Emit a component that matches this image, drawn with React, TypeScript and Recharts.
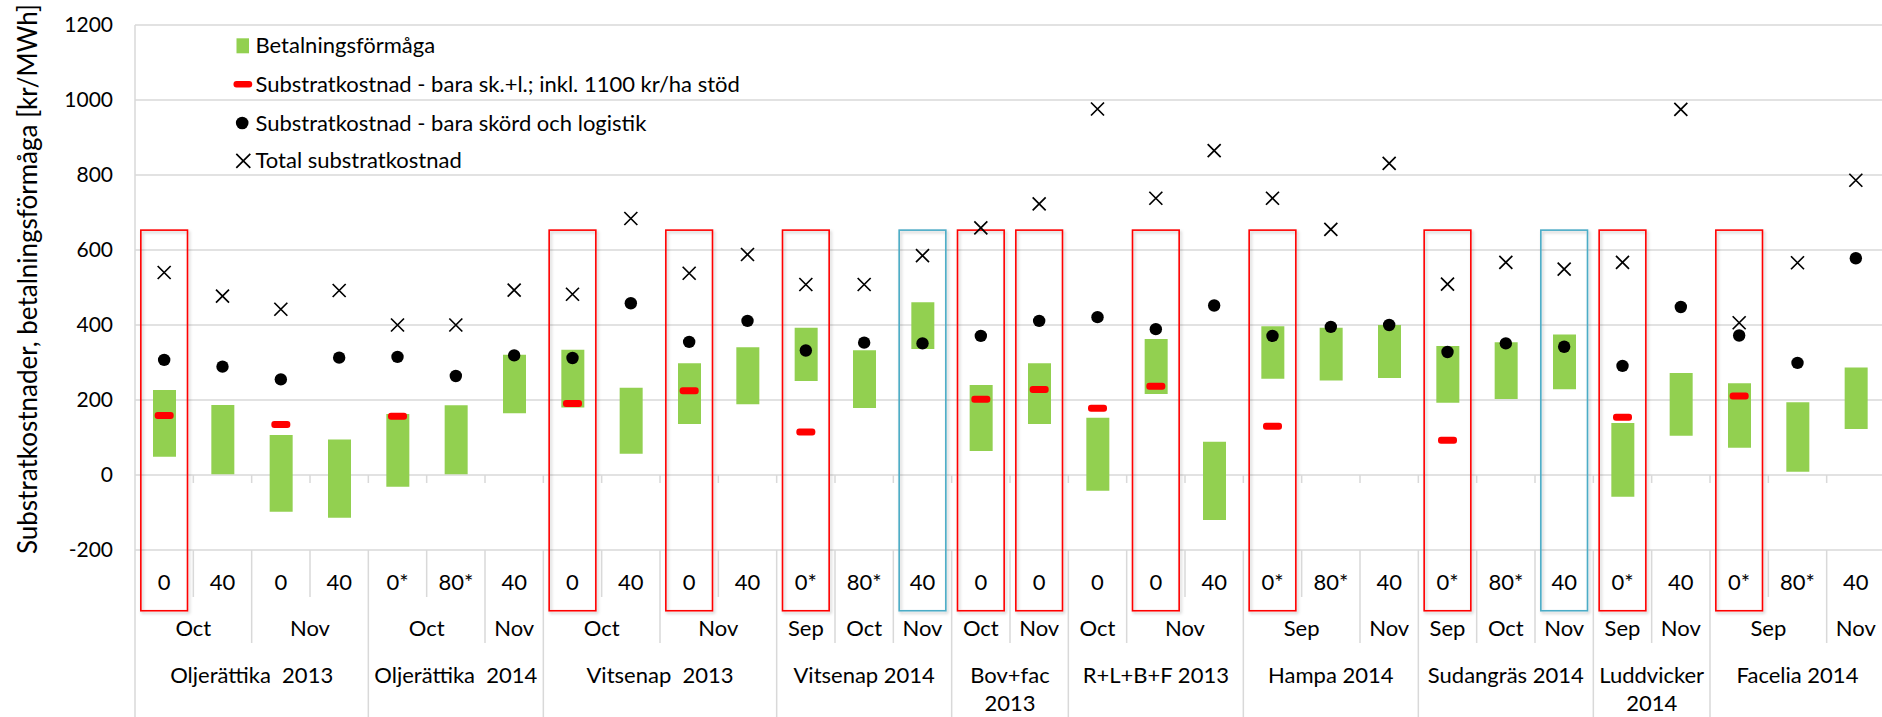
import React from 'react';
import { ComposedChart, Bar, Scatter, XAxis, YAxis, CartesianGrid, ReferenceArea, Legend } from 'recharts';

// crop groups (top level of the category axis) and how many leaf columns each spans
const cropNames = ['Oljerättika  2013', 'Oljerättika  2014', 'Vitsenap  2013', 'Vitsenap 2014', 'Bov+fac\n2013', 'R+L+B+F 2013', 'Hampa 2014', 'Sudangräs 2014', 'Luddvicker\n2014', 'Facelia 2014'];
const cropSizes = [4, 3, 4, 3, 2, 3, 3, 3, 2, 3];

// harvest month per column
const months = ['Oct', 'Oct', 'Nov', 'Nov', 'Oct', 'Oct', 'Nov', 'Oct', 'Oct', 'Nov', 'Nov', 'Sep', 'Oct', 'Nov', 'Oct', 'Nov', 'Oct', 'Nov', 'Nov', 'Sep', 'Sep', 'Nov', 'Sep', 'Oct', 'Nov', 'Sep', 'Nov', 'Sep', 'Sep', 'Nov'];
// N-dose per column
const doses = ['0', '40', '0', '40', '0*', '80*', '40', '0', '40', '0', '40', '0*', '80*', '40', '0', '0', '0', '0', '40', '0*', '80*', '40', '0*', '80*', '40', '0*', '40', '0*', '80*', '40'];

// Betalningsförmåga (range low..high)
const payLow = [49, 2, -98, -114, -31, 2, 165, 180, 57, 136, 189, 251, 179, 336, 64, 136, -42, 216, -120, 257, 252, 259, 193, 203, 229, -58, 105, 73, 9, 123];
const payHigh = [227, 187, 107, 95, 163, 186, 321, 334, 233, 298, 341, 393, 333, 461, 240, 298, 153, 363, 89, 397, 393, 400, 344, 354, 375, 139, 272, 245, 194, 287];
// Substratkostnad - bara sk.+l.; inkl. 1100 kr/ha stöd
const costSupport = [159, null, 135, null, 157, null, null, 191, null, 225, null, 115, null, null, 202, 228, 178, 237, null, 130, null, null, 93, null, null, 154, null, 211, null, null];
// Substratkostnad - bara skörd och logistik
const costHarvest = [307, 289, 255, 313, 315, 264, 319, 312, 458, 355, 411, 332, 353, 351, 371, 411, 421, 389, 452, 371, 395, 400, 328, 351, 342, 291, 448, 372, 299, 578];
// Total substratkostnad
const costTotal = [540, 477, 442, 492, 400, 400, 493, 482, 684, 538, 588, 508, 508, 585, 659, 723, 976, 738, 865, 738, 655, 831, 509, 567, 549, 567, 975, 406, 566, 786];

// highlighted columns
const redBoxes = [0, 7, 9, 11, 14, 15, 17, 19, 22, 25, 27];
const blueBoxes = [13, 24];
const boxRange = [-362, 653];

const yTicks = [-200, 0, 200, 400, 600, 800, 1000, 1200];

const W = 1885;
const H = 717;
const PLOT_LEFT = 135;
const PLOT_TOP = 25;
const PLOT_BOTTOM = 550;
const N = doses.length;
const BAND = (W - PLOT_LEFT) / N;
const Y_ZERO = PLOT_TOP + (1200 / 1400) * (PLOT_BOTTOM - PLOT_TOP);
const FONT = 'Lato, sans-serif';
const GRID = '#d9d9d9';

const cropOf: number[] = [];
cropSizes.forEach((n, c) => { for (let k = 0; k < n; k++) cropOf.push(c); });

const monthStart = (i: number) => i === 0 || months[i - 1] !== months[i] || cropOf[i - 1] !== cropOf[i];
const monthEnd = (i: number) => i === N - 1 || months[i + 1] !== months[i] || cropOf[i + 1] !== cropOf[i];
const cropStart = (i: number) => i === 0 || cropOf[i - 1] !== cropOf[i];
const cropEnd = (i: number) => i === N - 1 || cropOf[i + 1] !== cropOf[i];

const data = doses.map((d, i) => ({
  key: `c${i}`,
  pay: [payLow[i], payHigh[i]],
  support: costSupport[i],
  harvest: costHarvest[i],
  total: costTotal[i],
}));

const CategoryTick = (props: any) => {
  const i = parseInt(String(props.payload.value).slice(1), 10);
  const cx = PLOT_LEFT + (i + 0.5) * BAND;
  const right = PLOT_LEFT + (i + 1) * BAND;
  const sepBottom = cropEnd(i) ? H : monthEnd(i) ? PLOT_BOTTOM + 93 : PLOT_BOTTOM + 47;
  const txt = { fontFamily: FONT, fontSize: 22, fill: '#000', textAnchor: 'middle' as const };

  let monthLabel = null;
  if (monthStart(i)) {
    let j = i;
    while (!monthEnd(j)) j++;
    const mx = PLOT_LEFT + ((i + j + 1) / 2) * BAND;
    monthLabel = <text x={mx} y={PLOT_BOTTOM + 86} {...txt}>{months[i]}</text>;
  }
  let cropLabel = null;
  if (cropStart(i)) {
    let j = i;
    while (!cropEnd(j)) j++;
    const mx = PLOT_LEFT + ((i + j + 1) / 2) * BAND;
    const lines = cropNames[cropOf[i]].split('\n');
    cropLabel = (
      <text x={mx} y={PLOT_BOTTOM + 133} {...txt} style={{ whiteSpace: 'pre' }}>
        {lines.map((l, k) => (
          <tspan key={k} x={mx} dy={k === 0 ? 0 : 28}>{l}</tspan>
        ))}
      </text>
    );
  }

  return (
    <g>
      {i === 0 && <line x1={PLOT_LEFT} x2={PLOT_LEFT} y1={PLOT_BOTTOM} y2={H} stroke={GRID} strokeWidth={1.5} />}
      {i < N - 1 && <line x1={right} x2={right} y1={PLOT_BOTTOM} y2={sepBottom} stroke={GRID} strokeWidth={1.5} />}
      {i < N - 1 && <line x1={right} x2={right} y1={Y_ZERO} y2={Y_ZERO + 8} stroke={GRID} strokeWidth={1.5} />}
      <text x={cx} y={PLOT_BOTTOM + 40} {...txt}>{doses[i]}</text>
      {monthLabel}
      {cropLabel}
    </g>
  );
};

const BoxShape = (color: string) => (p: any) => {
  const w = p.width * 0.8;
  return (
    <rect
      x={p.x + (p.width - w) / 2}
      y={p.y}
      width={w}
      height={p.height}
      fill="none"
      stroke={color}
      strokeWidth={1.6}
      filter="url(#boxShadow)"
    />
  );
};

const DashShape = (p: any) =>
  Number.isFinite(p.cy) ? <rect x={p.cx - 9.5} y={p.cy - 3.5} width={19} height={7} rx={3} fill="#ff0000" /> : null;
const DotShape = (p: any) =>
  Number.isFinite(p.cy) ? <circle cx={p.cx} cy={p.cy} r={6.2} fill="#000" /> : null;
const CrossShape = (p: any) =>
  Number.isFinite(p.cy) ? (
    <path
      d={`M${p.cx - 6.5},${p.cy - 6.5}L${p.cx + 6.5},${p.cy + 6.5}M${p.cx - 6.5},${p.cy + 6.5}L${p.cx + 6.5},${p.cy - 6.5}`}
      stroke="#000"
      strokeWidth={1.7}
      fill="none"
    />
  ) : null;

const LegendBox = () => {
  const t = { fontFamily: FONT, fontSize: 22, fill: '#000' };
  return (
    <svg width={800} height={190} style={{ display: 'block' }}>
      <rect x={236.5} y={38.3} width={12.5} height={15} fill="#92d050" />
      <text x={255.5} y={53.3} {...t}>Betalningsförmåga</text>
      <rect x={233.5} y={81} width={18.7} height={6.5} rx={3} fill="#ff0000" />
      <text x={255.5} y={91.7} {...t}>Substratkostnad - bara sk.+l.; inkl. 1100 kr/ha stöd</text>
      <circle cx={242.2} cy={123} r={6.3} fill="#000" />
      <text x={255.5} y={130.7} {...t}>Substratkostnad - bara skörd och logistik</text>
      <path d="M236.3,153.8L250.3,167.8M236.3,167.8L250.3,153.8" stroke="#000" strokeWidth={1.7} />
      <text x={255.5} y={168.3} {...t}>Total substratkostnad</text>
    </svg>
  );
};

const YLabel = () => (
  <text x={37} y={279} transform="rotate(-90, 37, 279)" textAnchor="middle" fontFamily={FONT} fontSize={26} fill="#000">
    Substratkostnader, betalningsförmåga [kr/MWh]
  </text>
);

export default function App() {
  return (
    <div style={{ position: 'absolute', left: 0, top: 0, width: 1882, height: H, overflow: 'hidden', background: '#fff' }}>
      <ComposedChart width={W} height={H} data={data} margin={{ top: PLOT_TOP, right: 0, bottom: 0, left: 0 }}>
        <defs>
          <filter id="boxShadow" x="-20%" y="-5%" width="150%" height="115%">
            <feDropShadow dx={1.5} dy={2} stdDeviation={1.6} floodColor="#000" floodOpacity={0.22} />
          </filter>
        </defs>
        <CartesianGrid vertical={false} stroke={GRID} strokeWidth={1.5} />
        <XAxis
          dataKey="key"
          type="category"
          height={H - PLOT_BOTTOM}
          interval={0}
          tickSize={0}
          tickMargin={0}
          axisLine={false}
          tickLine={false}
          tick={<CategoryTick />}
        />
        <YAxis
          width={PLOT_LEFT}
          domain={[-200, 1200]}
          ticks={yTicks}
          interval={0}
          tickSize={0}
          tickMargin={22}
          tickLine={false}
          axisLine={{ stroke: GRID, strokeWidth: 1.5 }}
          tick={{ fontFamily: FONT, fontSize: 21, fill: '#000' }}
          label={<YLabel />}
        />
        <Legend
          layout="vertical"
          align="center"
          verticalAlign="middle"
          wrapperStyle={{ left: 0, top: 0, width: 800, height: 190 }}
          content={<LegendBox />}
        />
        <Bar dataKey="pay" name="Betalningsförmåga" fill="#92d050" barSize={23} isAnimationActive={false} />
        <Scatter dataKey="support" name="Substratkostnad - bara sk.+l.; inkl. 1100 kr/ha stöd" shape={DashShape} isAnimationActive={false} />
        <Scatter dataKey="harvest" name="Substratkostnad - bara skörd och logistik" shape={DotShape} isAnimationActive={false} />
        <Scatter dataKey="total" name="Total substratkostnad" shape={CrossShape} isAnimationActive={false} />
        {redBoxes.map((i) => (
          <ReferenceArea key={`r${i}`} x1={`c${i}`} x2={`c${i}`} y1={boxRange[0]} y2={boxRange[1]} ifOverflow="visible" shape={BoxShape('#ff0000')} />
        ))}
        {blueBoxes.map((i) => (
          <ReferenceArea key={`b${i}`} x1={`c${i}`} x2={`c${i}`} y1={boxRange[0]} y2={boxRange[1]} ifOverflow="visible" shape={BoxShape('#4bacc6')} />
        ))}
      </ComposedChart>
    </div>
  );
}
